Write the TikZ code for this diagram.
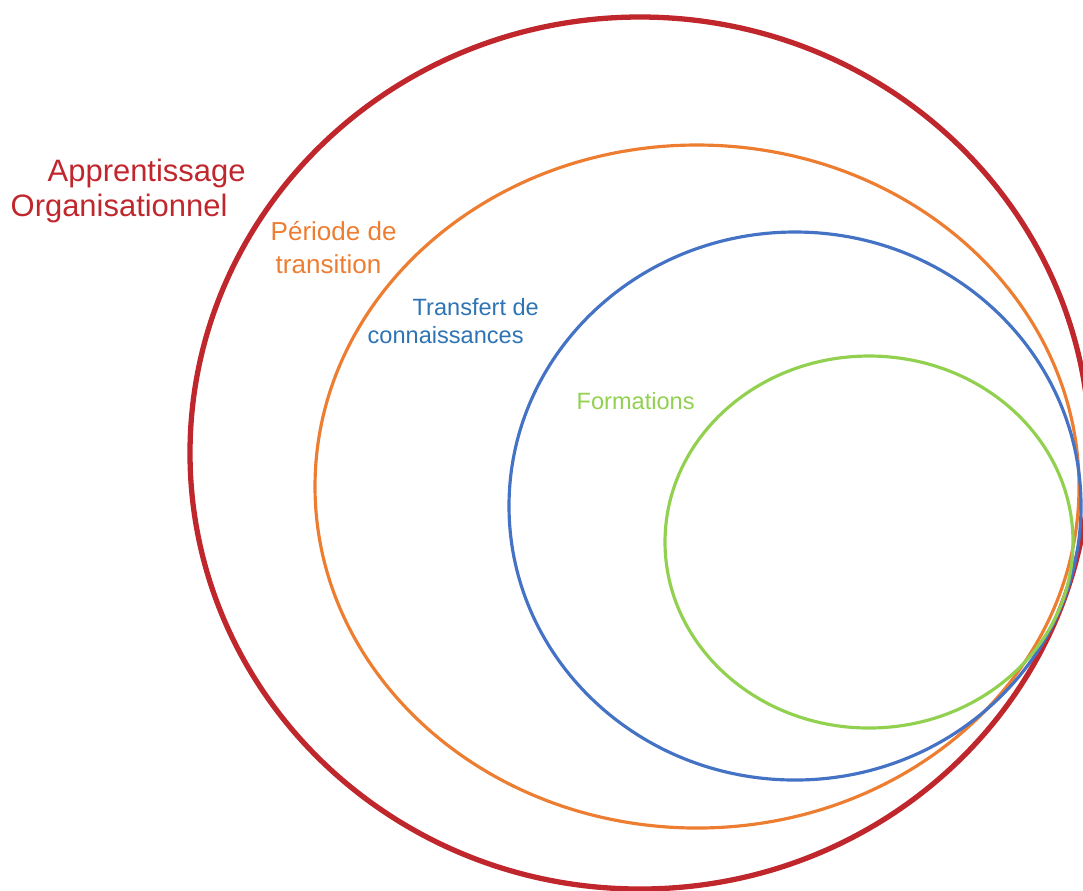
\documentclass[tikz,border=0pt]{standalone}
\usepackage{fontspec}
\setmainfont{Liberation Sans}
\usepackage{tikz}
\definecolor{aoRed}{HTML}{C0272D}
\definecolor{ptOrange}{HTML}{ED7D31}
\definecolor{tcBlue}{HTML}{4472C4}
\definecolor{tcText}{HTML}{2E74B5}
\definecolor{fGreen}{HTML}{92D050}

\begin{document}
\begin{tikzpicture}[x=0.01cm, y=-0.01cm,
        lbl/.style={anchor=base west, inner sep=0pt}]
        \useasboundingbox (0,0) rectangle (1083,890);

        \draw[aoRed, line width=1.5pt] (640,453) ellipse [x radius=450, y radius=436];
        \draw[ptOrange, line width=0.9pt] (697,486.5) ellipse [x radius=382, y radius=341.5];
        \draw[tcBlue, line width=0.9pt] (795,506) ellipse [x radius=286, y radius=274];
        \draw[fGreen, line width=0.9pt] (869,542) ellipse [x radius=204, y radius=186];

        % labels
        \node[lbl, text=aoRed, font=\fontsize{8.8pt}{10pt}\selectfont] (appr) at (47,181) {Apprentissage};
        \node[lbl, text=aoRed, font=\fontsize{8.8pt}{10pt}\selectfont] (orga) at (10,216) {Organisationnel};
        \node[lbl, text=ptOrange, font=\fontsize{7.4pt}{9pt}\selectfont] (peri) at (270,240) {Période de};
        \node[lbl, text=ptOrange, font=\fontsize{7.4pt}{9pt}\selectfont] (tran) at (275,273) {transition};
        \node[lbl, text=tcText, font=\fontsize{6.7pt}{8pt}\selectfont] (trsf) at (412,315) {Transfert de};
        \node[lbl, text=tcText, font=\fontsize{6.7pt}{8pt}\selectfont] (conn) at (367,343) {connaissances};
        \node[lbl, text=fGreen, font=\fontsize{6.7pt}{8pt}\selectfont] (form) at (576,409) {Formations};
    \end{tikzpicture}
\end{document}
